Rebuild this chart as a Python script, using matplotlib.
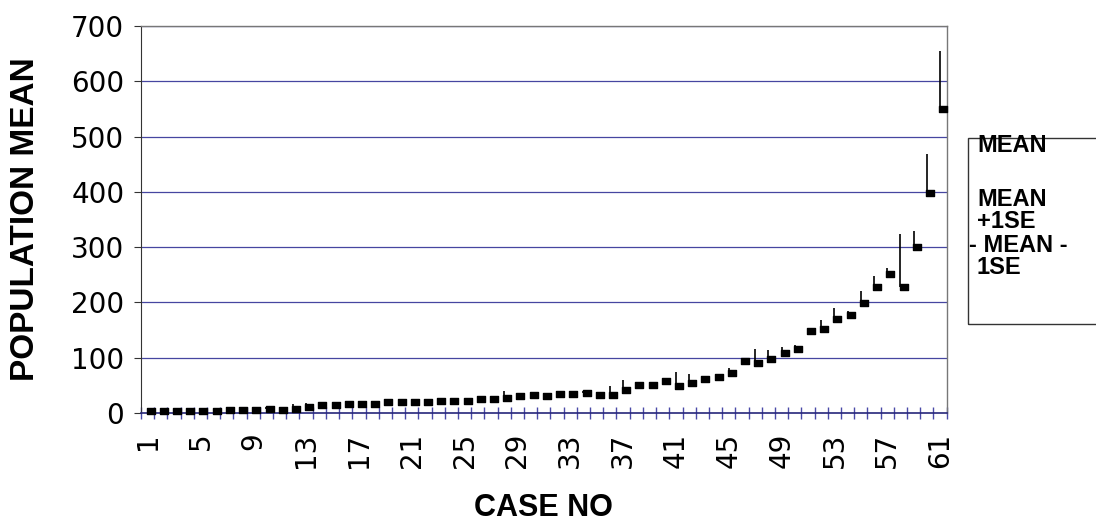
import numpy as np
import matplotlib.pyplot as plt
from matplotlib.path import Path
from matplotlib.patches import Rectangle

# case numbers and population means, with the mean + 1 SE upper value
case_no = np.arange(1, 62)
pop_mean = [3, 3, 3, 3, 3, 4, 5, 5, 5, 8,
            5, 7, 10, 14, 14, 17, 16, 16, 19, 19,
            19, 19, 22, 22, 22, 25, 25, 28, 30, 33,
            30, 34, 34, 37, 33, 33, 41, 51, 51, 58,
            48, 55, 62, 65, 72, 94, 90, 97, 109, 116,
            149, 152, 170, 178, 199, 228, 251, 228, 301, 398,
            550]
mean_plus_se = [5, 5, 6, 5, 6, 6, 7, 7, 7, 10,
                8, 16, 18, 16, 16, 19, 18, 18, 21, 21,
                21, 21, 24, 24, 24, 27, 27, 39, 32, 35,
                33, 36, 36, 40, 36, 48, 60, 54, 53, 61,
                75, 71, 65, 68, 81, 97, 115, 114, 120, 123,
                152, 168, 190, 184, 220, 247, 263, 324, 330, 469,
                655]
y_ticks = [0, 100, 200, 300, 400, 500, 600, 700]
x_labels = list(range(1, 62, 4))

W, H = 1096, 528
fig = plt.figure(figsize=(W / 100, H / 100), dpi=100)
ax = fig.add_axes([141 / W, (H - 413) / H, (946.7 - 141) / W, (413 - 26) / H])

grid_col = '#4646a0'
ax.set_ylim(0, 700)
ax.set_xlim(0.5, 61.5)
ax.set_yticks(y_ticks)
for v in y_ticks[1:]:
    ax.axhline(v, color=grid_col, lw=0.9, zorder=1)

# high bars: from the mean up to mean + 1SE
ax.vlines(case_no, pop_mean, mean_plus_se, color='black', lw=1.2, zorder=3)

# mean marker: small filled block to the right of the bar
block = Path([(-1, -0.62), (1, -0.62), (1, 0.62), (-1, 0.62), (-1, -0.62)],
             [Path.MOVETO, Path.LINETO, Path.LINETO, Path.LINETO, Path.CLOSEPOLY])
ax.plot(case_no + 0.23, pop_mean, linestyle='none', marker=block,
        markersize=6, color='black', zorder=4, clip_on=False)

# spines
for s in ['top', 'right']:
    ax.spines[s].set_color('#777777')
    ax.spines[s].set_linewidth(1.0)
ax.spines['left'].set_color('#333333')
ax.spines['bottom'].set_color('#26267a')
ax.spines['bottom'].set_linewidth(1.2)

# x axis: labels at the category, ticks between categories
ax.set_xticks(x_labels)
ax.set_xticklabels([str(v) for v in x_labels], rotation=90, fontsize=20,
                   family='DejaVu Sans')
ax.set_xticks(np.arange(0.5, 62, 1), minor=True)
ax.tick_params(axis='x', which='major', length=0, pad=14)
ax.tick_params(axis='x', which='minor', length=8, direction='inout',
               color='#4a4aa8', width=1.0)
ax.tick_params(axis='y', length=5, color='#333333', labelsize=20, pad=7)

ax.set_xlabel('CASE NO', fontsize=22, fontweight='bold',
              family='Liberation Sans', labelpad=18)
ax.set_ylabel('POPULATION MEAN', fontsize=24, fontweight='bold',
              family='Liberation Sans', labelpad=22)

# legend box on the right
fig.patches.append(Rectangle((968 / W, (H - 324) / H), 140 / W, (324 - 138) / H,
                             transform=fig.transFigure, fill=False,
                             edgecolor='#333333', lw=1.0))
leg_lines = [('MEAN', 977, 146), ('MEAN', 977, 200), ('+1SE', 977, 222),
             ('- MEAN -', 969, 245), ('1SE', 977, 268)]
for txt, x, y in leg_lines:
    fig.text(x / W, (H - y) / H, txt, fontsize=17, fontweight='bold',
             family='Liberation Sans', ha='left', va='center')

fig.savefig('out.png', dpi=100, facecolor='white')
